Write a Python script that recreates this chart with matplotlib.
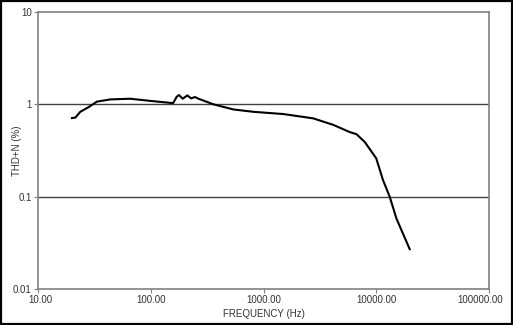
import matplotlib
matplotlib.use("Agg")
import matplotlib.pyplot as plt
from matplotlib.patches import Rectangle
import matplotlib.transforms as mtransforms

freq = [20, 21.5, 23.7, 28, 33.3, 43.7, 65.6, 98.6, 158, 170, 178, 192, 211, 228,
        247, 265, 360, 541, 813, 1497, 2755, 4148, 5834, 6680, 7925, 10000,
        11480, 13160, 15100, 19800]
thdn = [0.71, 0.72, 0.83, 0.93, 1.07, 1.13, 1.15, 1.09, 1.03, 1.21, 1.26, 1.15, 1.25, 1.16,
        1.2, 1.15, 1.0, 0.88, 0.83, 0.785, 0.705, 0.60, 0.50, 0.475, 0.39, 0.26,
        0.151, 0.10, 0.058, 0.027]

x_ticks = [10, 100, 1000, 10000, 100000]
x_labels = ["10.00", "100.00", "1000.00", "10000.00", "100000.00"]
y_ticks = [0.01, 0.1, 1, 10]
y_labels = ["0.01", "0.1", "1", "10"]

plt.rcParams['font.family'] = ['Liberation Sans', 'DejaVu Sans']

fig = plt.figure(figsize=(5.13, 3.25), dpi=100)
ax = fig.add_axes([38/513, 1 - 289/325, (489-38)/513, (289-12)/325])

ax.plot(freq, thdn, color='black', lw=1.5, solid_joinstyle='round')
ax.set_xscale('log')
ax.set_yscale('log')
ax.set_xlim(10, 100000)
ax.set_ylim(0.01, 10)

ax.set_xticks(x_ticks)
ax.set_xticklabels(x_labels)
ax.set_yticks(y_ticks)
ax.set_yticklabels(y_labels)
ax.minorticks_off()

for yv in [0.1, 1]:
    ax.axhline(yv, color='#404040', lw=1.0, zorder=1)

for s in ax.spines.values():
    s.set_color('#808080')
    s.set_linewidth(1.2)

ax.tick_params(axis='both', which='major', length=3, width=0.8, color='#808080',
               labelsize=7, labelcolor='#333333', pad=1.5)
ax.set_xlabel('FREQUENCY (Hz)', fontsize=7, color='#333333', labelpad=3)
ax.set_ylabel('THD+N (%)', fontsize=7, color='#333333')
ax.yaxis.set_label_coords((22 - 38) / 451, 0.5)

fig.canvas.draw()
lbls = ax.get_xticklabels()
offset = mtransforms.ScaledTranslation(-9/100, 0, fig.dpi_scale_trans)
lbls[-1].set_transform(lbls[-1].get_transform() + offset)
offset0 = mtransforms.ScaledTranslation(2/100, 0, fig.dpi_scale_trans)
lbls[0].set_transform(lbls[0].get_transform() + offset0)

fig.patches.append(Rectangle((0.002, 0.003), 0.996, 0.994, transform=fig.transFigure,
                             fill=False, edgecolor='black', lw=1.6))

fig.savefig('out.png', dpi=100)
